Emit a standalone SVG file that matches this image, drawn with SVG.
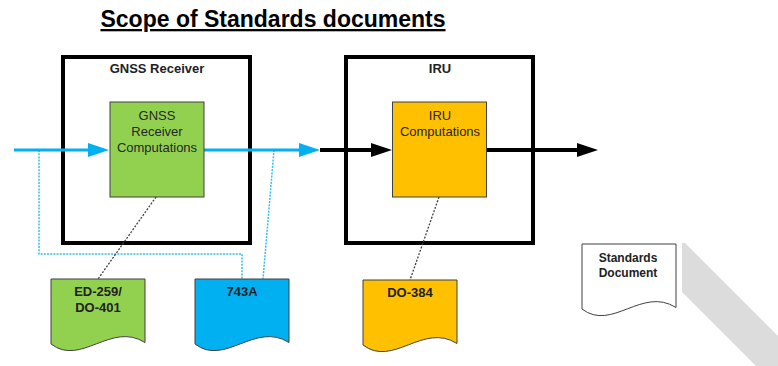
<svg xmlns="http://www.w3.org/2000/svg" xmlns:xlink="http://www.w3.org/1999/xlink" width="778" height="366" viewBox="0 0 778 366">
  <style>
    text { font-family: "Liberation Sans", Arial, sans-serif; fill: #222; }
    .title { font-size: 23px; font-weight: bold; fill: #000; text-decoration: underline; }
    .frame { fill: none; stroke: #000; stroke-width: 4; }
    .frame-label { font-size: 13px; font-weight: bold; text-anchor: middle; }
    .proc { stroke: #404040; stroke-width: 1; }
    .proc-label { font-size: 13px; text-anchor: middle; fill: #262626; }
    .doc { stroke: #404040; stroke-width: 1; }
    .doc-label { font-size: 13px; font-weight: bold; text-anchor: middle; }
    .green { fill: #92D050; }
    .orange { fill: #FFC000; }
    .blue { fill: #00B0F0; }
    .white { fill: #FFFFFF; }
    .flow-blue { stroke: #00B0F0; stroke-width: 3; fill: none; }
    .flow-black { stroke: #000; stroke-width: 4; fill: none; }
    .trace-blue { stroke: #33BDF2; stroke-width: 1.5; stroke-dasharray: 2 1.2; fill: none; }
    .trace-black { stroke: #404040; stroke-width: 1.3; stroke-dasharray: 2 1.5; fill: none; }
  </style>
  <defs>
    <marker id="head-blue" markerUnits="userSpaceOnUse" markerWidth="21" markerHeight="14" refX="0" refY="7" orient="auto">
      <path d="M0,0 L21,7 L0,14 Z" fill="#00B0F0"/>
    </marker>
    <marker id="head-black" markerUnits="userSpaceOnUse" markerWidth="21" markerHeight="14" refX="0" refY="7" orient="auto">
      <path d="M0,0 L21,7 L0,14 Z" fill="#000"/>
    </marker>
    <!-- flowchart document outline, 94 wide, wavy bottom -->
    <path id="doc-shape" d="M0,0 H94 V63.5 C60,42 30,88 0,65 Z"/>
  </defs>

  <rect width="778" height="366" fill="#FFFFFF"/>

  <!-- diagonal grey band, lower right -->
  <polygon points="682,243 685,243 778,336 778,366 756,366 682,292" fill="#DCDCDC"/>

  <text class="title" x="273" y="27" text-anchor="middle">Scope of Standards documents</text>

  <g id="gnss-receiver">
    <rect class="frame" x="63" y="57" width="187" height="186"/>
    <text class="frame-label" x="157" y="73">GNSS Receiver</text>
  </g>

  <g id="iru">
    <rect class="frame" x="346" y="57" width="187" height="186"/>
    <text class="frame-label" x="440" y="73">IRU</text>
  </g>

  <g id="connectors">
    <path class="trace-blue" d="M39,150 V254 H242 V279"/>
    <path class="trace-blue" d="M274,150 L263,279"/>
    <path class="trace-black" d="M156,197 L98,279"/>
    <path class="trace-black" d="M439,197 L410,280"/>
    <path class="flow-blue" d="M14,150 H88" marker-end="url(#head-blue)"/>
    <path class="flow-blue" d="M204,150 H299" marker-end="url(#head-blue)"/>
    <path class="flow-black" d="M320,150 H371" marker-end="url(#head-black)"/>
    <path class="flow-black" d="M487,150 H577" marker-end="url(#head-black)"/>
  </g>

  <g id="gnss-computations">
    <rect class="proc green" x="110" y="102" width="94" height="95"/>
    <text class="proc-label" x="157" y="120">GNSS</text>
    <text class="proc-label" x="157" y="136">Receiver</text>
    <text class="proc-label" x="157" y="152">Computations</text>
  </g>

  <g id="iru-computations">
    <rect class="proc orange" x="392.5" y="102" width="94" height="95"/>
    <text class="proc-label" x="440" y="120">IRU</text>
    <text class="proc-label" x="440" y="136">Computations</text>
  </g>

  <g id="doc-ed259">
    <use xlink:href="#doc-shape" class="doc green" transform="translate(51,279)"/>
    <text class="doc-label" x="98" y="296">ED-259/</text>
    <text class="doc-label" x="98" y="312">DO-401</text>
  </g>

  <g id="doc-743a">
    <use xlink:href="#doc-shape" class="doc blue" transform="translate(195,279)"/>
    <text class="doc-label" x="242" y="296">743A</text>
  </g>

  <g id="doc-do384">
    <use xlink:href="#doc-shape" class="doc orange" transform="translate(363,280)"/>
    <text class="doc-label" x="410" y="297">DO-384</text>
  </g>

  <g id="doc-legend">
    <use xlink:href="#doc-shape" class="doc white" transform="translate(582,244)"/>
    <text class="doc-label" x="628" y="262" style="font-size:12px">Standards</text>
    <text class="doc-label" x="628" y="277" style="font-size:12px">Document</text>
  </g>
</svg>
